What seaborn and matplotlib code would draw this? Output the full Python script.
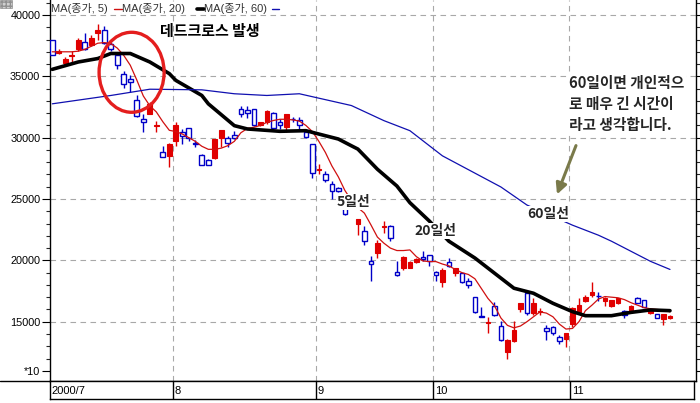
import numpy as np
import pandas as pd
import matplotlib
matplotlib.use("Agg")
import matplotlib.pyplot as plt
import seaborn as sns
from matplotlib.patches import Ellipse, Rectangle, FancyArrowPatch
from matplotlib.lines import Line2D

# --- data (daily candles, Jul-Nov 2000) ---
month_labels = ["2000/7", "8", "9", "10", "11"]
month_first = [0, 19, 41, 59, 80]

opens = [37950, 36900, 36100, 36650, 37200, 37800, 37550, 38500, 38800, 37650,
         36700, 35200, 34750, 33100, 31550, 31950, 30950, 28800, 28500, 29750,
         30450, 30800, 29550, 28600, 28200, 28350, 29950, 29950, 30200, 32350,
         32250, 32350, 31000, 31250, 32050, 31250, 30850, 31550, 31450, 30500,
         29450, 27400, 27050, 26200, 25900, 24300, 24700, 22950, 22400, 19950,
         20600, 22750, 22800, 19050, 19400, 19400, 19900, 20300, 20400, 19050,
         18250, 19900, 18950, 18950, 18350, 17050, 15430, 14900, 16300, 14650,
         12550, 13450, 16050, 17300, 15700, 15800, 14450, 14600, 13750, 13600,
         14850, 15800, 16700, 17150, 17100, 16700, 16250, 16500, 15900, 15850,
         16970, 16780, 15700, 15600, 15250, 15300]
highs = [38000, 37200, 36600, 37100, 38100, 38500, 38350, 39300, 39100, 37800,
         36850, 35400, 35100, 33450, 31950, 32900, 31350, 29350, 29600, 31250,
         30700, 30800, 29800, 28650, 28250, 29900, 30650, 30150, 30550, 32600,
         32600, 32350, 31250, 32250, 32100, 31550, 31950, 31670, 31720, 30630,
         29500, 27850, 27300, 26480, 26000, 24500, 25000, 23350, 22800, 20330,
         21690, 23200, 22920, 19970, 20330, 19920, 20200, 20740, 20400, 19100,
         19400, 20200, 19400, 19000, 18550, 17050, 16230, 15410, 16580, 15060,
         13630, 15060, 16550, 17320, 16910, 16090, 14730, 14650, 13900, 14100,
         16230, 16910, 17190, 18200, 17460, 17050, 16800, 16950, 15950, 16370,
         17050, 16780, 16050, 15650, 15600, 15550]
lows = [36700, 36850, 35900, 36200, 37100, 37150, 37450, 38000, 37600, 37100,
        35600, 34050, 33700, 31650, 30450, 31900, 30500, 28400, 27600, 29350,
        29500, 29750, 29200, 27750, 27750, 28300, 29200, 29200, 29900, 31650,
        31600, 30950, 30950, 31100, 30650, 30700, 30450, 31260, 30570, 29970,
        26750, 27000, 26350, 24970, 25600, 23700, 24200, 22100, 21280, 18330,
        20190, 22240, 21560, 18690, 19240, 19370, 19800, 19920, 19510, 18280,
        17850, 19450, 18700, 18150, 17730, 15750, 15400, 14040, 15490, 13420,
        11940, 13360, 15800, 15550, 15550, 15550, 13500, 13950, 13220, 12950,
        14590, 15680, 16640, 17050, 16690, 16300, 16200, 16450, 15280, 15800,
        16500, 16230, 15650, 15330, 14730, 15250]
closes = [36720, 37100, 36400, 36750, 37950, 37200, 38100, 38800, 37750, 37200,
          35900, 34400, 34500, 31800, 31250, 32750, 31000, 28450, 29450, 31000,
          30150, 29950, 29520, 27800, 27800, 29900, 30650, 29600, 29950, 31950,
          32000, 31000, 31250, 32200, 30800, 31000, 31900, 31500, 31000, 30050,
          27150, 27450, 26550, 25650, 25650, 23800, 24400, 23350, 21550, 19700,
          21400, 22800, 21850, 18800, 20250, 19900, 20150, 20100, 19950, 18800,
          19250, 19500, 19350, 18200, 18000, 15800, 15400, 14950, 15550, 13500,
          13500, 14300, 16500, 15750, 16500, 15850, 14250, 14050, 13400, 14050,
          16100, 16350, 17050, 17400, 17080, 16950, 16750, 16900, 15550, 16250,
          16500, 16230, 16000, 15330, 15600, 15500]

ma5 = [37000, 37000, 37000, 37000, 37050, 37200, 37450, 37700, 37750, 37680,
       37300, 36700, 35900, 34700, 33400, 32600, 32100, 31300, 30600, 30500,
       30300, 30000, 29700, 29300, 29050, 29050, 29150, 29350, 29700, 30400,
       30750, 30850, 31000, 31250, 31400, 31500, 31500, 31450, 31350, 31000,
       30500, 29700, 28800, 27700, 26800, 25700, 24900, 24300, 23850, 22900,
       21900, 21400, 21000, 20800, 20800, 20850, 20300, 19950, 19900, 19900,
       19700, 19550, 19250, 19000, 18850, 18500, 17700, 16900, 16300, 15300,
       14700, 14500, 14650, 15000, 15400, 15800, 15700, 15400, 14800, 14400,
       14450, 15000, 15900, 16350, 16850, 17050, 17000, 16950, 16800, 16550,
       16350, 16150, 16050, 16000, 15950, 15800]

ma20_day = [0, 4, 7, 9, 12, 15, 18, 19, 23, 24, 28, 30, 35, 39, 42, 44, 46,
            47, 50, 53, 55, 58, 61, 65, 68, 71, 74, 77, 80, 82, 86, 89, 92, 95]
ma20 = [35570, 36170, 36450, 36860, 36860, 36170, 35220, 34670, 33440, 32760,
        30980, 30710, 30520, 30570, 30160, 29890, 29340, 29070, 27430, 26060,
        24700, 23200, 21560, 20190, 18960, 17730, 17320, 16500, 15820, 15490,
        15490, 15760, 15960, 15900]

ma60_day = [0, 9, 15, 23, 28, 33, 38, 46, 51, 55, 60, 69, 73, 80, 84, 86, 92, 95]
ma60 = [32760, 33440, 33950, 33900, 33580, 33440, 33580, 32620, 31390, 30570,
        28520, 25980, 24510, 22870, 22050, 21560, 19920, 19260]

RED = "#e00000"
BLUE = "#0000c8"
GRID = "#a8a8a8"

sns.set_style("white")
plt.rcParams["font.family"] = ["Liberation Sans", "Noto Sans CJK KR", "DejaVu Sans"]
KR = ["Noto Sans CJK KR", "DejaVu Sans"]

W, H = 700, 403
def fx(px):
    return px / W
def fy(py):
    return 1 - py / H

fig = plt.figure(figsize=(7, 4.03), dpi=100)
ax = fig.add_axes([fx(50), fy(381), fx(696) - fx(50), fy(0) - fy(381)])

df = pd.DataFrame({"open": opens, "high": highs, "low": lows, "close": closes})
df["day"] = np.arange(len(df))

# candles: red filled = up day, blue hollow = down day
for d, r in df.iterrows():
    c = RED if r["close"] >= r["open"] else BLUE
    ax.vlines(d, r["low"], r["high"], color=c, lw=1, zorder=3)
    lo_b = min(r["open"], r["close"])
    hi_b = max(r["open"], r["close"])
    if r["close"] >= r["open"]:
        ax.bar(d, max(hi_b - lo_b, 40), bottom=lo_b, width=0.72, color=RED,
               edgecolor=RED, lw=0.8, zorder=4)
    else:
        ax.bar(d, max(hi_b - lo_b, 40), bottom=lo_b, width=0.72, color="white",
               edgecolor=BLUE, lw=1.0, zorder=4)

# moving averages
sns.lineplot(x=df["day"], y=ma5, ax=ax, color="#d01010", lw=0.9, zorder=5)
sns.lineplot(x=ma20_day, y=ma20, ax=ax, color="black", lw=2.6, zorder=5)
sns.lineplot(x=ma60_day, y=ma60, ax=ax, color="#1010b0", lw=0.9, zorder=5)

ax.set_xlim(-0.35, 99.0)
ax.set_ylim(10167, 41222)
ax.set_xlabel("")
ax.set_ylabel("")
ax.set_xticks([])

majors = [15000, 20000, 25000, 30000, 35000, 40000]
ax.set_yticks([11000] + majors)
ax.set_yticklabels(["*10"] + [str(v) for v in majors], fontsize=7.8)
ax.set_yticks(np.arange(11000, 41001, 1000), minor=True)
ax.tick_params(axis="y", which="major", length=6, width=0.8, direction="out",
               pad=1, colors="black", left=True, right=True)
ax.tick_params(axis="y", which="minor", length=3, width=0.8, direction="out",
               left=True, right=True)

for v in majors:
    ax.axhline(v, color=GRID, lw=0.8, ls=(0, (5, 4)), zorder=1)
for m in month_first[1:]:
    ax.axvline(m - 0.5, color=GRID, lw=0.8, ls=(0, (5, 4)), zorder=1)

ax.spines["top"].set_visible(False)
for s in ["left", "right", "bottom"]:
    ax.spines[s].set_color("black")
    ax.spines[s].set_linewidth(1)

# date bar under the plot
bar = fig.add_axes([fx(50), fy(399), fx(694) - fx(50), fy(381) - fy(399)])
bar.set_xlim(-0.35, (694 - 52.3) / 6.51)
bar.set_ylim(0, 1)
bar.set_xticks([])
bar.set_yticks([])
for s in bar.spines.values():
    s.set_color("black")
    s.set_linewidth(1)
for m, lab in zip(month_first, month_labels):
    if m > 0:
        bar.axvline(m - 0.5, color="black", lw=1)
    bar.text(m - 0.5 + 0.3 if m > 0 else -0.1, 0.45, lab, fontsize=8,
             va="center", ha="left", color="black")
fig.add_artist(Line2D([0, fx(50)], [fy(381), fy(381)], color="black", lw=1))

# legend strip at top
lx = [51, 122, 204]
ends = [(114, 122, "#d01010", 1.0), (197, 204, "black", 2.6), (272, 279, "#1010b0", 1.0)]
for x0, lab, (a, b, c, w) in zip(lx, ["MA(종가, 5)", "MA(종가, 20)", "MA(종가, 60)"], ends):
    fig.text(fx(x0), fy(8.5), lab, fontsize=8, color="#333333", va="center", ha="left")
    fig.add_artist(Line2D([fx(a), fx(b)], [fy(8.5), fy(8.5)], color=c, lw=w))

fig.add_artist(Rectangle((0, fy(8)), fx(12), fy(0) - fy(8), facecolor="#d0d0d0",
                         edgecolor="#909090", hatch="++++", lw=0.5))

# annotations
ax.add_patch(Ellipse((12.2, 35330), 10.0, 6520, fill=False, edgecolor="#e41e1e",
                     lw=2.4, zorder=7))
fig.text(fx(160), fy(31), "데드크로스 발생", family=KR, fontsize=10.8,
         fontweight="bold", va="center", ha="left", color="black")

box = dict(facecolor="white", edgecolor="none", pad=1.0)
fig.text(fx(337), fy(202), "5일선", family=KR, fontsize=10, fontweight="bold",
         va="center", ha="left", bbox=box, zorder=10)
fig.text(fx(414), fy(231), "20일선", family=KR, fontsize=10, fontweight="bold",
         va="center", ha="left", bbox=box, zorder=10)
fig.text(fx(527), fy(214), "60일선", family=KR, fontsize=10, fontweight="bold",
         va="center", ha="left", bbox=box, zorder=10)
fig.text(fx(569), fy(104), "60일이면 개인적으\n로 매우 긴 시간이\n라고 생각합니다.",
         family=KR, fontsize=10.6, fontweight="bold", va="center", ha="left",
         linespacing=1.35, bbox=box, zorder=10)

fig.add_artist(FancyArrowPatch((fx(577), fy(143)), (fx(556), fy(197)),
                               transform=fig.transFigure, arrowstyle="-|>",
                               mutation_scale=16, color="#7a7a4a", lw=2.2))

fig.savefig("out.png", dpi=100)
